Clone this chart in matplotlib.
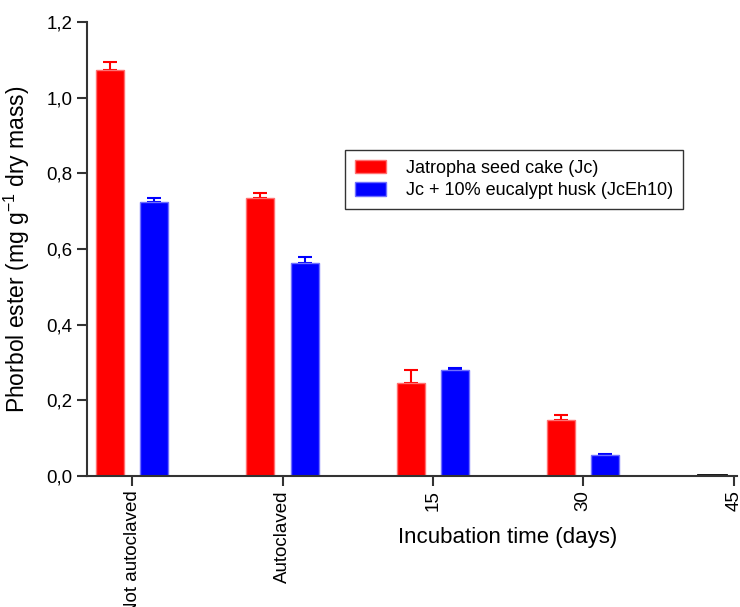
import matplotlib

matplotlib.use("Agg")
import matplotlib.pyplot as plt
import numpy as np
from matplotlib.ticker import FuncFormatter

plt.rcParams["font.family"] = ["Liberation Sans", "DejaVu Sans"]
plt.rcParams["mathtext.fontset"] = "custom"
plt.rcParams["mathtext.rm"] = "Liberation Sans"

groups = ["Not autoclaved", "Autoclaved", "15", "30", "45"]
jc_mean = [1.074, 0.734, 0.247, 0.147, 0.003]
jc_err = [0.021, 0.013, 0.032, 0.013, 0.0]
jceh_mean = [0.723, 0.563, 0.281, 0.055, 0.0]
jceh_err = [0.012, 0.017, 0.004, 0.003, 0.0]

x = np.arange(len(groups))
width = 0.186
offset = 0.147

fig = plt.figure(figsize=(7.4, 6.07), dpi=100)
ax = fig.add_axes([0.1176, 0.2158, 0.878, 0.748])

# last red bar (45 days) is ~0 and shows only as a black outline
red_edges = ["#ff7070"] * (len(groups) - 1) + ["black"]
red_lw = [1.0] * (len(groups) - 1) + [2.0]
ax.bar(x - offset, jc_mean, width, color="#ff0000", edgecolor=red_edges, linewidth=red_lw,
       label="Jatropha seed cake (Jc)", zorder=2)
ax.bar(x + offset, jceh_mean, width, color="#0000ff", edgecolor="#7070ff", linewidth=1.0,
       label="Jc + 10% eucalypt husk (JcEh10)", zorder=2)
ax.errorbar(x[:4] - offset, jc_mean[:4], yerr=[np.zeros(4), jc_err[:4]], fmt="none",
            ecolor="#ff0000", capsize=4.8, elinewidth=1.5, capthick=1.5, zorder=1)
ax.errorbar(x[:4] + offset, jceh_mean[:4], yerr=[np.zeros(4), jceh_err[:4]], fmt="none",
            ecolor="#0000ff", capsize=4.8, elinewidth=1.5, capthick=1.5, zorder=1)

ax.set_xlim(-0.3, 4.02)
ax.set_ylim(0, 1.2)
ax.set_yticks(np.arange(0, 1.21, 0.2))
ax.yaxis.set_major_formatter(FuncFormatter(lambda v, p: f"{v:.1f}".replace(".", ",")))
ax.set_xticks(x)
ax.set_xticklabels(groups, rotation=90)

for side in ["top", "right"]:
    ax.spines[side].set_visible(False)
for side in ["left", "bottom"]:
    ax.spines[side].set_color("#333333")
    ax.spines[side].set_linewidth(1.5)
ax.tick_params(direction="out", length=7, width=1.5, color="#333333", labelsize=13.5)

ax.set_ylabel("Phorbol ester (mg g$^{\\mathregular{-1}}$ dry mass)", fontsize=16.5)
ax.yaxis.set_label_coords(-0.085, 0.5)
ax.set_xlabel("Incubation time (days)", fontsize=16)
ax.xaxis.set_label_coords(0.648, -0.112)

leg = ax.legend(loc="upper left", bbox_to_anchor=(0.397, 0.718), fontsize=13,
                frameon=True, fancybox=False, edgecolor="black", handlelength=1.75,
                handleheight=0.75, handletextpad=1.1, borderpad=0.55, labelspacing=0.3,
                borderaxespad=0)
leg.get_frame().set_linewidth(1.0)

fig.savefig("out.png", dpi=100)
